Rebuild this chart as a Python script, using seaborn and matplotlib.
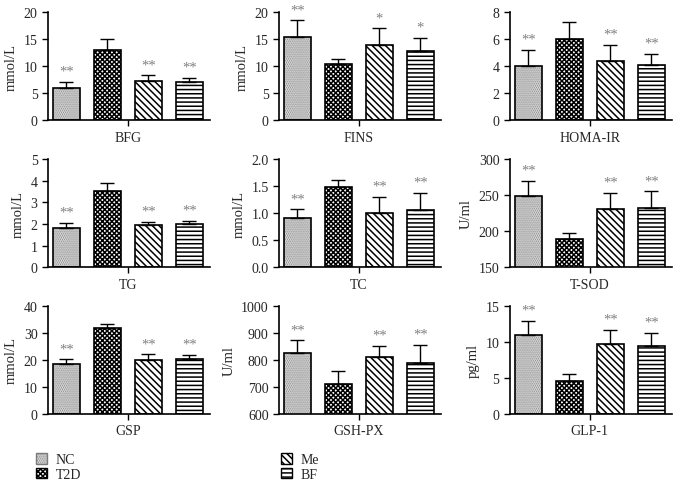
import numpy as np
import pandas as pd
import matplotlib
matplotlib.use('Agg')
import matplotlib.pyplot as plt
from matplotlib.patches import Rectangle, Patch
import seaborn as sns

groups = ['NC', 'T2D', 'Me', 'BF']
metrics = ['BFG', 'FINS', 'HOMA-IR', 'TG', 'TC', 'T-SOD', 'GSP', 'GSH-PX', 'GLP-1']

bfg_mean = [5.9, 13.0, 7.2, 7.1]
bfg_sd = [1.2, 2.1, 1.1, 0.7]
fins_mean = [15.4, 10.4, 13.9, 12.9]
fins_sd = [3.1, 0.9, 3.1, 2.3]
homa_mean = [4.05, 6.05, 4.4, 4.1]
homa_sd = [1.15, 1.2, 1.2, 0.8]
tg_mean = [1.8, 3.5, 1.97, 2.0]
tg_sd = [0.25, 0.37, 0.13, 0.15]
tc_mean = [0.9, 1.49, 1.01, 1.05]
tc_sd = [0.17, 0.12, 0.29, 0.32]
tsod_mean = [248, 189, 230, 232]
tsod_sd = [22, 9, 23, 23]
gsp_mean = [18.3, 31.7, 20.0, 20.3]
gsp_sd = [1.9, 1.7, 2.0, 1.5]
gshpx_mean = [825, 712, 810, 788]
gshpx_sd = [47, 45, 42, 68]
glp1_mean = [10.9, 4.6, 9.7, 9.4]
glp1_sd = [2.0, 1.0, 2.0, 1.8]

means = [bfg_mean, fins_mean, homa_mean, tg_mean, tc_mean, tsod_mean, gsp_mean, gshpx_mean, glp1_mean]
sds = [bfg_sd, fins_sd, homa_sd, tg_sd, tc_sd, tsod_sd, gsp_sd, gshpx_sd, glp1_sd]
stars = [['**', '', '**', '**'], ['**', '', '*', '*'], ['**', '', '**', '**'],
         ['**', '', '**', '**'], ['**', '', '**', '**'], ['**', '', '**', '**'],
         ['**', '', '**', '**'], ['**', '', '**', '**'], ['**', '', '**', '**']]
ylabels = ['mmol/L', 'mmol/L', '', 'mmol/L', 'mmol/L', 'U/ml', 'mmol/L', 'U/ml', 'pg/ml']
ylims = [(0, 20, 5), (0, 20, 5), (0, 8, 2), (0, 5, 1), (0, 2, 0.5),
         (150, 300, 50), (0, 40, 10), (600, 1000, 100), (0, 15, 5)]

hatches = ['........', 'xxxxxxx', '\\\\\\\\\\', '----']
hatch_cols = ['#7a7a7a', 'black', 'black', 'black']

sns.set_style('ticks')
plt.rcParams['font.family'] = ['Liberation Serif', 'DejaVu Serif']
plt.rcParams['hatch.linewidth'] = 1.1
plt.rcParams['font.size'] = 9

fig, axes = plt.subplots(3, 3, figsize=(6.8, 4.85), dpi=100)
fig.subplots_adjust(left=0.0706, right=0.988, top=0.973, bottom=0.1443,
                    wspace=0.426, hspace=0.355)

for i, ax in enumerate(axes.flat):
    df = pd.DataFrame({'metric': [metrics[i]] * 4, 'group': groups, 'value': means[i]})
    sns.barplot(data=df, x='metric', y='value', hue='group', hue_order=groups,
                errorbar=None, gap=0.34, width=0.8, ax=ax, legend=False,
                palette=['white'] * 4, saturation=1)
    bars = ax.patches[:4]
    xs = []
    for j, p in enumerate(bars):
        p.set_hatch(hatches[j])
        p.set_edgecolor(hatch_cols[j])
        p.set_linewidth(0 if j == 0 else 1.2)
        if j == 0:
            ax.add_patch(Rectangle((p.get_x(), p.get_y()), p.get_width(), p.get_height(),
                                   fill=False, edgecolor='black', linewidth=1.2, zorder=p.get_zorder()))
        xs.append(p.get_x() + p.get_width() / 2)
    ax.errorbar(xs, means[i], yerr=[np.zeros(4), sds[i]], fmt='none',
                ecolor='black', elinewidth=1.0, capsize=5, capthick=1.0, zorder=1)
    for j in range(4):
        if stars[i][j]:
            ax.annotate(stars[i][j], (xs[j], means[i][j] + sds[i][j]), xytext=(0, 3),
                        textcoords='offset points', ha='center', va='bottom',
                        color='#808080', fontsize=10.5)
    lo, hi, st = ylims[i]
    ax.set_ylim(lo, hi)
    ax.set_yticks(np.arange(lo, hi + st / 2, st))
    if i == 4:
        ax.set_yticklabels(['%.1f' % v for v in np.arange(lo, hi + st / 2, st)])
    ax.set_xlim(-0.39, 0.40)
    ax.set_xlabel('')
    ax.set_ylabel(ylabels[i], fontsize=10.5)
    ax.tick_params(axis='both', labelsize=10, length=4, width=1, direction='out', color='black')
    for s in ['left', 'bottom']:
        ax.spines[s].set_linewidth(1.2)
        ax.spines[s].set_color('black')
    sns.despine(ax=ax)

handles = [Patch(facecolor='white', edgecolor=hatch_cols[j], hatch=hatches[j], label=groups[j])
           for j in range(4)]
leg_kw = dict(frameon=False, handlelength=0.8, handleheight=0.8, handletextpad=0.6,
              labelspacing=0.1, fontsize=10, borderaxespad=0)
fig.legend(handles=handles[:2], loc='upper left', bbox_to_anchor=(0.045, 0.075), **leg_kw)
fig.legend(handles=handles[2:], loc='upper left', bbox_to_anchor=(0.405, 0.075), **leg_kw)

fig.savefig('out.png', dpi=100)
